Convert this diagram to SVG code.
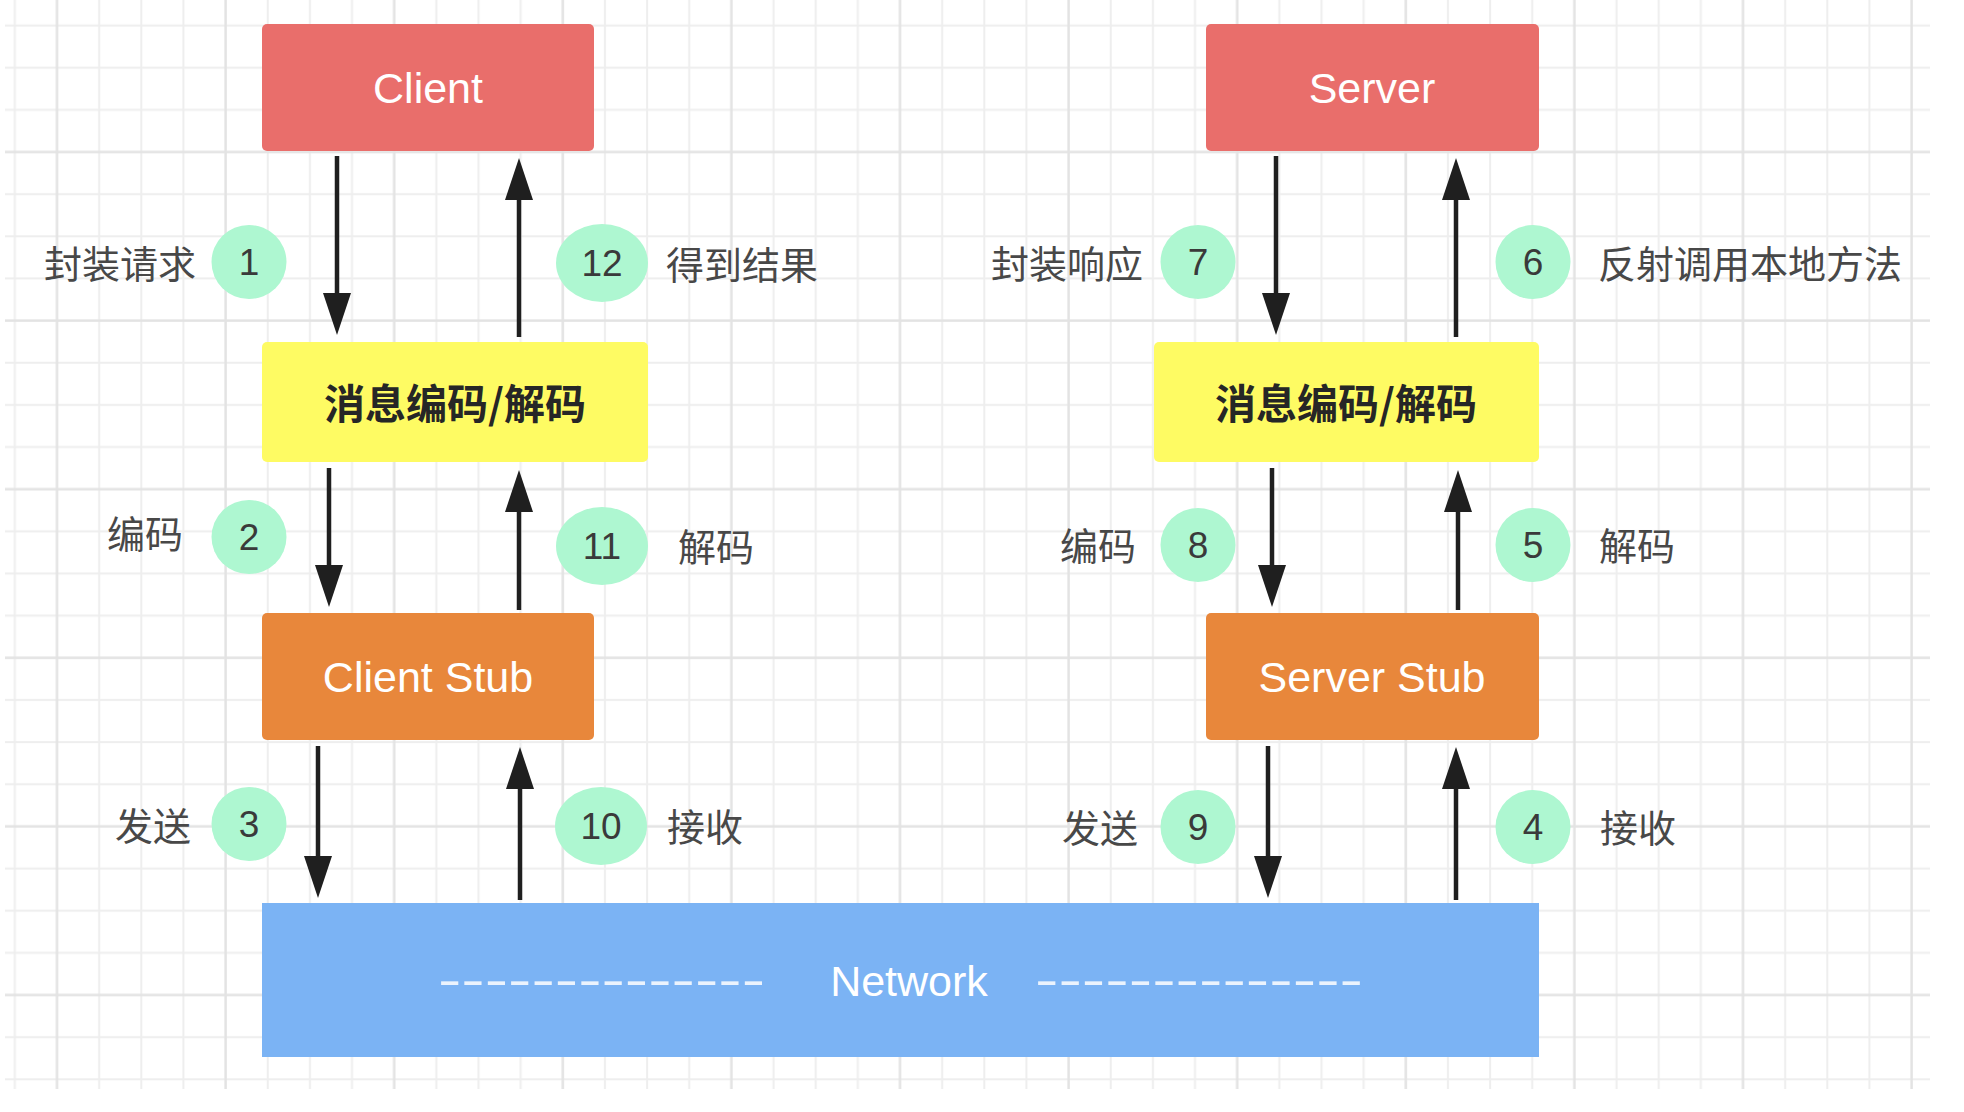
<svg xmlns="http://www.w3.org/2000/svg" width="1964" height="1112" viewBox="0 0 1964 1112">
<style>
.box-red{fill:#E96E6B}
.box-yel{fill:#FEFB63}
.box-org{fill:#E8873B}
.box-blue{fill:#7BB3F4}
.wt{font-family:"Liberation Sans",Arial,sans-serif;font-size:43px;fill:#ffffff;text-anchor:middle;dominant-baseline:central}
.yt{font-family:"Noto Sans CJK SC",sans-serif;font-size:41px;font-weight:bold;fill:#262626;text-anchor:middle;dominant-baseline:central}
.lbl{font-family:"Noto Sans CJK SC",sans-serif;font-size:38px;fill:#484848;dominant-baseline:central}
.num{font-family:"Liberation Sans",Arial,sans-serif;font-size:37px;fill:#3a3a3a;text-anchor:middle;dominant-baseline:central}
.circ{fill:#AEF7D1}
.arr{stroke:#1f1f1f;stroke-width:4.5;fill:none;marker-end:url(#ah)}
.gmin{fill:#eeeeee}
.gmaj{fill:#e3e3e3}
.dash{font-family:"Liberation Sans",Arial,sans-serif;font-size:46px;fill:#ffffff;opacity:0.85}
</style>
<defs>
<pattern id="grid" patternUnits="userSpaceOnUse" x="-48.375" y="46.625" width="168.6" height="168.6">
<rect class="gmin" x="20.075" y="0" width="2" height="168.6"/>
<rect class="gmin" x="62.225" y="0" width="2" height="168.6"/>
<rect class="gmin" x="146.525" y="0" width="2" height="168.6"/>
<rect class="gmin" x="0" y="20.075" width="168.6" height="2"/>
<rect class="gmin" x="0" y="62.225" width="168.6" height="2"/>
<rect class="gmin" x="0" y="146.525" width="168.6" height="2"/>
<rect class="gmaj" x="104.125" y="0" width="2.5" height="168.6"/>
<rect class="gmaj" x="0" y="104.125" width="168.6" height="2.5"/>
</pattern>
<marker id="ah" markerUnits="userSpaceOnUse" viewBox="0 0 42 28" markerWidth="42" markerHeight="28" refX="2" refY="14" orient="auto">
<path d="M0,0 L42,14 L0,28 Z" fill="#1f1f1f"/>
</marker>
</defs>
<rect x="0" y="0" width="1964" height="1112" fill="#ffffff"/>
<rect x="5" y="0" width="1925" height="1089" fill="url(#grid)"/>

<g id="connectors">
<line class="arr" x1="337" y1="156" x2="337" y2="295"/>
<line class="arr" x1="519" y1="337" x2="519" y2="198"/>
<line class="arr" x1="1276" y1="156" x2="1276" y2="295"/>
<line class="arr" x1="1456" y1="337" x2="1456" y2="198"/>
<line class="arr" x1="329" y1="468" x2="329" y2="567"/>
<line class="arr" x1="519" y1="610" x2="519" y2="510"/>
<line class="arr" x1="1272" y1="468" x2="1272" y2="567"/>
<line class="arr" x1="1458" y1="610" x2="1458" y2="510"/>
<line class="arr" x1="318" y1="746" x2="318" y2="858"/>
<line class="arr" x1="520" y1="900" x2="520" y2="787"/>
<line class="arr" x1="1268" y1="746" x2="1268" y2="858"/>
<line class="arr" x1="1456" y1="900" x2="1456" y2="787"/>
</g>

<g id="client">
<rect class="box-red" x="262" y="24" width="332" height="127" rx="5"/>
<text class="wt" x="428" y="88">Client</text>
</g>
<g id="server">
<rect class="box-red" x="1206" y="24" width="333" height="127" rx="5"/>
<text class="wt" x="1372" y="88">Server</text>
</g>
<g id="client-codec">
<rect class="box-yel" x="262" y="342" width="386" height="120" rx="5"/>
<text class="yt" x="455" y="401">消息编码/解码</text>
</g>
<g id="server-codec">
<rect class="box-yel" x="1154" y="342" width="385" height="120" rx="5"/>
<text class="yt" x="1346" y="401">消息编码/解码</text>
</g>
<g id="client-stub">
<rect class="box-org" x="262" y="613" width="332" height="127" rx="5"/>
<text class="wt" x="428" y="677">Client Stub</text>
</g>
<g id="server-stub">
<rect class="box-org" x="1206" y="613" width="333" height="127" rx="5"/>
<text class="wt" x="1372" y="677">Server Stub</text>
</g>
<g id="network">
<rect class="box-blue" x="262" y="903" width="1277" height="154"/>
<text class="dash" x="438" y="996" textLength="327" lengthAdjust="spacingAndGlyphs">--------------</text>
<text class="wt" x="909" y="981">Network</text>
<text class="dash" x="1035" y="996" textLength="328" lengthAdjust="spacingAndGlyphs">--------------</text>
</g>

<g id="step1"><ellipse class="circ" cx="249" cy="262" rx="37.5" ry="37"/><text class="num" x="249" y="262">1</text><text class="lbl" x="196" y="261" text-anchor="end">封装请求</text></g>
<g id="step12"><ellipse class="circ" cx="602" cy="263" rx="46" ry="39"/><text class="num" x="602" y="263">12</text><text class="lbl" x="666" y="262">得到结果</text></g>
<g id="step7"><ellipse class="circ" cx="1198" cy="262" rx="37.5" ry="37"/><text class="num" x="1198" y="262">7</text><text class="lbl" x="1143" y="261" text-anchor="end">封装响应</text></g>
<g id="step6"><ellipse class="circ" cx="1533" cy="262" rx="37.5" ry="37"/><text class="num" x="1533" y="262">6</text><text class="lbl" x="1598" y="261">反射调用本地方法</text></g>
<g id="step2"><ellipse class="circ" cx="249" cy="537" rx="37.5" ry="37"/><text class="num" x="249" y="537">2</text><text class="lbl" x="183" y="531" text-anchor="end">编码</text></g>
<g id="step11"><ellipse class="circ" cx="602" cy="546" rx="46" ry="39"/><text class="num" x="602" y="546">11</text><text class="lbl" x="678" y="544">解码</text></g>
<g id="step8"><ellipse class="circ" cx="1198" cy="545" rx="37.5" ry="37"/><text class="num" x="1198" y="545">8</text><text class="lbl" x="1136" y="543" text-anchor="end">编码</text></g>
<g id="step5"><ellipse class="circ" cx="1533" cy="545" rx="37.5" ry="37"/><text class="num" x="1533" y="545">5</text><text class="lbl" x="1599" y="543">解码</text></g>
<g id="step3"><ellipse class="circ" cx="249" cy="824" rx="37.5" ry="37"/><text class="num" x="249" y="824">3</text><text class="lbl" x="191" y="823" text-anchor="end">发送</text></g>
<g id="step10"><ellipse class="circ" cx="601" cy="826" rx="46" ry="39"/><text class="num" x="601" y="826">10</text><text class="lbl" x="667" y="824">接收</text></g>
<g id="step9"><ellipse class="circ" cx="1198" cy="827" rx="37.5" ry="37"/><text class="num" x="1198" y="827">9</text><text class="lbl" x="1138" y="825" text-anchor="end">发送</text></g>
<g id="step4"><ellipse class="circ" cx="1533" cy="827" rx="37.5" ry="37"/><text class="num" x="1533" y="827">4</text><text class="lbl" x="1600" y="825">接收</text></g>
</svg>
